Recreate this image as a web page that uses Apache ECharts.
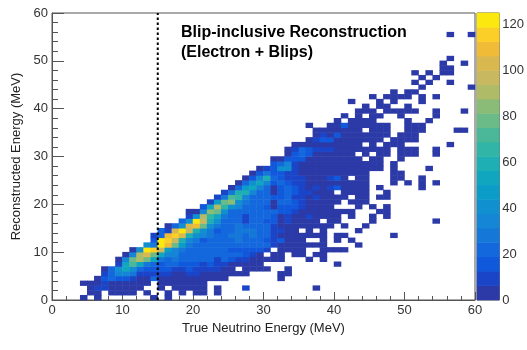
<!DOCTYPE html>
<html>
<head>
<meta charset="utf-8">
<title>Blip-inclusive Reconstruction</title>
<script src="https://cdn.jsdelivr.net/npm/echarts@6/dist/echarts.min.js"></script>
<style>
html, body { margin: 0; padding: 0; background: #fff; }
#chart { width: 527px; height: 350px; }
</style>
</head>
<body>
<div id="chart"></div>
<script>
// first true-energy bin (MeV) of each reconstructed-energy row, row 0 is 0-1 MeV
var rowStarts = [4,5,5,4,6,7,7,9,9,10,11,13,14,14,15,16,18,19,19,21,22,23,24,25,26,27,28,29,31,31,33,33,34,36,37,37,36,40,41,43,44,42,45,48,52,51,52,51,55,55,56,0,0,0,0,56];

// counts per bin, 0 = empty bin
var rowCounts = [
  [3,0,3,0,0,0,0,0,0,0,3,0,3],
  [3,3,0,3,3,3,3,0,3,0,0,3,0,3,0,3,3,0,3],
  [3,9,9,3,3,3,3,3,0,0,3,0,3,3,3,3,3,0,3,0,0,0,9,0,0,0,0,0,0,0,0,0,3],
  [3,3,3,9,3,3,3,3,3,3,0,3,3,3,3,3,3,3],
  [3,15,22,15,15,9,3,3,22,3,3,3,3,3,3,3,3,3,3,0,0,0,0,0,0,0,3],
  [9,22,34,34,28,9,9,9,9,9,3,3,9,9,3,3,3,3,3,3,3,0,0,0,0,3,3],
  [3,22,40,53,40,22,15,15,15,15,9,9,15,9,9,9,9,3,3,0,3,3,3,3,0,0,3],
  [9,53,72,53,28,22,15,22,22,15,15,15,9,15,9,9,3,3,3,3,3,0,0,0,0,0,0,0,0,0,0,3],
  [3,34,78,90,78,53,28,22,28,22,22,22,22,22,9,22,15,9,9,3,3,3,3,3,0,0,0,3,0,3],
  [3,34,90,103,78,53,34,34,22,22,22,22,22,22,22,22,22,15,9,3,0,3,3,0,3,3,0,3,3],
  [3,40,122,115,97,47,34,28,22,22,22,22,22,22,15,15,15,15,15,9,0,3,3,3,3,0,0,3,3,3,3],
  [40,28,122,109,78,47,28,22,22,22,22,22,22,22,22,22,22,22,9,3,3,3,3,3,3,3,0,0,0,0,3],
  [15,122,115,97,59,34,28,15,22,22,22,22,28,22,22,22,15,9,15,3,3,3,0,0,3,0,3,0,3],
  [9,22,109,115,103,59,40,34,28,22,22,28,28,22,28,22,22,9,3,3,3,3,3,3,3,0,3,3,0,0,0,0,0,0,3],
  [22,9,103,122,97,59,40,28,15,22,22,28,28,28,22,22,9,9,3,3,0,3,0,3,0,0,0,0,3],
  [3,22,40,103,109,78,40,28,22,22,28,22,22,22,22,9,3,3,3,3,3,3,3,3,0,3,0,0,3],
  [22,40,122,97,59,40,22,22,22,9,22,22,15,15,3,9,3,3,3,3,0,3,3,0,0,0,0,3,0,0,0,0,0,0,0,0,3],
  [9,40,90,65,53,28,22,22,9,22,22,22,15,3,9,3,3,9,3,3,3,3,0,3,0,0,3,0,3],
  [3,3,34,84,78,40,22,22,22,22,22,22,22,15,15,9,3,3,3,3,3,3,3,3,0,0,0,3,3],
  [15,53,90,65,40,34,22,22,22,15,3,15,15,15,9,3,3,3,3,0,0,0,3,0,3,0,3],
  [9,47,78,84,40,28,22,22,22,3,22,22,15,9,3,3,3,3,3,0,3,3,3],
  [9,28,72,65,34,22,22,22,15,15,22,9,9,3,9,3,3,3,3,0,3,3,0,3,3],
  [9,28,59,59,34,22,22,3,15,22,15,9,9,3,3,3,0,3,3,3,3,0,0,3],
  [3,22,47,53,34,22,3,15,22,15,9,3,9,3,9,15,3,3,3,3,0,3,0,0,0,0,0,3],
  [3,22,40,53,34,15,22,15,9,9,3,3,3,3,3,3,3,3,3,0,0,0,3,0,3,0,3,0,3],
  [3,15,34,59,22,15,9,9,9,3,3,3,9,15,3,0,3,3,0,0,0,3,3,0,0,3],
  [3,15,28,15,15,9,9,3,3,3,3,3,3,3,3,3,3,0,0,0,3,3],
  [3,9,15,40,40,9,3,3,3,3,3,3,3,3,3,3,3,3,0,3,0,0,0,0,3],
  [15,22,34,9,3,3,3,3,3,3,3,3,3,3,3,3,0,3],
  [3,3,15,15,15,3,3,3,3,3,3,3,3,0,3,3,0,0,3],
  [3,15,22,15,3,3,3,3,3,3,0,3,0,3,3,0,3,3,3,0,0,3],
  [3,9,22,15,9,9,9,3,3,3,3,3,3,3,3,0,3,3,3,0,0,3],
  [3,3,3,3,3,3,3,3,3,3,0,3,0,3,3,3,0,0,0,0,0,0,3],
  [3,9,15,15,3,3,3,3,3,3,3,0,3,3,3,3],
  [3,9,3,15,3,3,3,3,3,3,3,0,3,3,3],
  [3,3,3,3,3,3,3,0,3,3,3,0,0,3,3,3,0,0,0,0,3,3],
  [3,0,0,3,3,15,3,3,3,3,3,3,0,0,3,3,3],
  [3,0,3,3,3,3,0,0,0,0,3,0,0,3],
  [3,0,3,0,3,3,0,0,3,0,0,0,0,3],
  [3,3,3,0,3,3,3,3,3,0,0,3,0,0,0,3],
  [3,0,3,3,0,0,3],
  [3,0,0,0,3,0,3,0,0,0,3],
  [3,0,3,3,3,3,0,3,0,3],
  [3,0,3,3],
  [3,0,0,0,0,0,0,3],
  [3,0,3,0,0,3],
  [3,0,3],
  [3,0,3,0,3,3],
  [3,3],
  [3,0,0,3],
  [3],
  [],
  [],
  [],
  [],
  [3,0,0,3]
];

// colour steps of the palette, bottom to top
var paletteColors = ['#2b3aa6','#1a45c8','#1058dc','#1468dd','#1578d8','#1585d5','#1090cf','#0b9cc8','#10a6c0','#1eafb5',
  '#30b5a6','#4ab898','#6bbb88','#8abc78','#b0bb68','#c8b85f','#dab850','#f0bc38','#fccf28','#fae80f'];
var paletteStep = 6.25;
var colorTicks = [0, 20, 40, 60, 80, 100, 120];
var boundaryLine = [[15, 0], [15, 60]];

var binLabels = [];
for (var b = 0; b < 60; b++) binLabels.push(String(b));

var cells = [];
for (var r = 0; r < rowCounts.length; r++) {
  for (var i = 0; i < rowCounts[r].length; i++) {
    if (rowCounts[r][i] > 0) cells.push([rowStarts[r] + i, r, rowCounts[r][i]]);
  }
}

var pieces = [], levelLabels = [], barCells = [];
for (var p = 0; p < paletteColors.length; p++) {
  pieces.push({ gte: p * paletteStep, lt: (p + 1) * paletteStep, color: paletteColors[p] });
  levelLabels.push(String(p));
  barCells.push([0, p, (p + 0.5) * paletteStep]);
}

var font = '"Liberation Sans", Arial, sans-serif';
var axisGray = '#555';
var labelStyle = { fontFamily: font, fontSize: 13, color: '#333' };

var myChart = echarts.init(document.getElementById('chart'), null, { renderer: 'canvas' });
var option = {
  animation: false,
  backgroundColor: '#fff',
  title: {
    text: 'Blip-inclusive Reconstruction\n(Electron + Blips)',
    left: 176, top: 18,
    textStyle: { fontFamily: font, fontSize: 16, fontWeight: 'bold', color: '#000', lineHeight: 20 }
  },
  grid: [
    { left: 52, right: 52, top: 13, bottom: 50, show: true, borderColor: axisGray, borderWidth: 1 },
    { left: 477, width: 24, top: 13, bottom: 50, show: true, borderColor: axisGray, borderWidth: 1 }
  ],
  visualMap: { type: 'piecewise', show: false, dimension: 2, seriesIndex: [0, 1], pieces: pieces },
  xAxis: [
    { type: 'category', gridIndex: 0, data: binLabels, show: false },
    {
      type: 'value', gridIndex: 0, min: 0, max: 60, interval: 10, position: 'bottom',
      name: 'True Neutrino Energy (MeV)', nameLocation: 'middle', nameGap: 18,
      nameTextStyle: { fontFamily: font, fontSize: 13, color: '#222' },
      axisLine: { onZero: false, lineStyle: { color: axisGray } },
      axisTick: { inside: true, length: 8, lineStyle: { color: axisGray } },
      minorTick: { show: true, splitNumber: 5, length: 4, lineStyle: { color: axisGray } },
      splitLine: { show: false },
      axisLabel: Object.assign({ margin: 4 }, labelStyle)
    },
    { type: 'category', gridIndex: 1, data: ['0'], show: false }
  ],
  yAxis: [
    { type: 'category', gridIndex: 0, data: binLabels, show: false },
    {
      type: 'value', gridIndex: 0, min: 0, max: 60, interval: 10, position: 'left',
      name: 'Reconstructed Energy (MeV)', nameLocation: 'middle', nameGap: 29,
      nameTextStyle: { fontFamily: font, fontSize: 13, color: '#222' },
      axisLine: { onZero: false, lineStyle: { color: axisGray } },
      axisTick: { inside: true, length: 12, lineStyle: { color: axisGray } },
      minorTick: { show: true, splitNumber: 5, length: 6, lineStyle: { color: axisGray } },
      splitLine: { show: false },
      axisLabel: Object.assign({ margin: 4 }, labelStyle)
    },
    { type: 'category', gridIndex: 1, data: levelLabels, show: false },
    {
      type: 'value', gridIndex: 1, min: 0, max: paletteColors.length * paletteStep, position: 'right',
      axisLine: { onZero: false, lineStyle: { color: '#333' } },
      axisTick: { inside: true, length: 12, customValues: colorTicks, lineStyle: { color: '#333' } },
      splitLine: { show: false },
      axisLabel: Object.assign({ margin: 3, customValues: colorTicks }, labelStyle)
    }
  ],
  series: [
    {
      type: 'heatmap', xAxisIndex: 0, yAxisIndex: 0, data: cells, silent: true,
      itemStyle: { borderWidth: 0 }, emphasis: { disabled: true }
    },
    {
      type: 'heatmap', xAxisIndex: 2, yAxisIndex: 2, data: barCells, silent: true,
      itemStyle: { borderWidth: 0 }, emphasis: { disabled: true }
    },
    {
      type: 'line', xAxisIndex: 1, yAxisIndex: 1, data: boundaryLine, symbol: 'none', silent: true, z: 5,
      lineStyle: { color: '#000', width: 2, type: [2.5, 2.5] }
    }
  ]
};

if (option && typeof option === "object") {
  myChart.setOption(option, true);
}
</script>
</body>
</html>
